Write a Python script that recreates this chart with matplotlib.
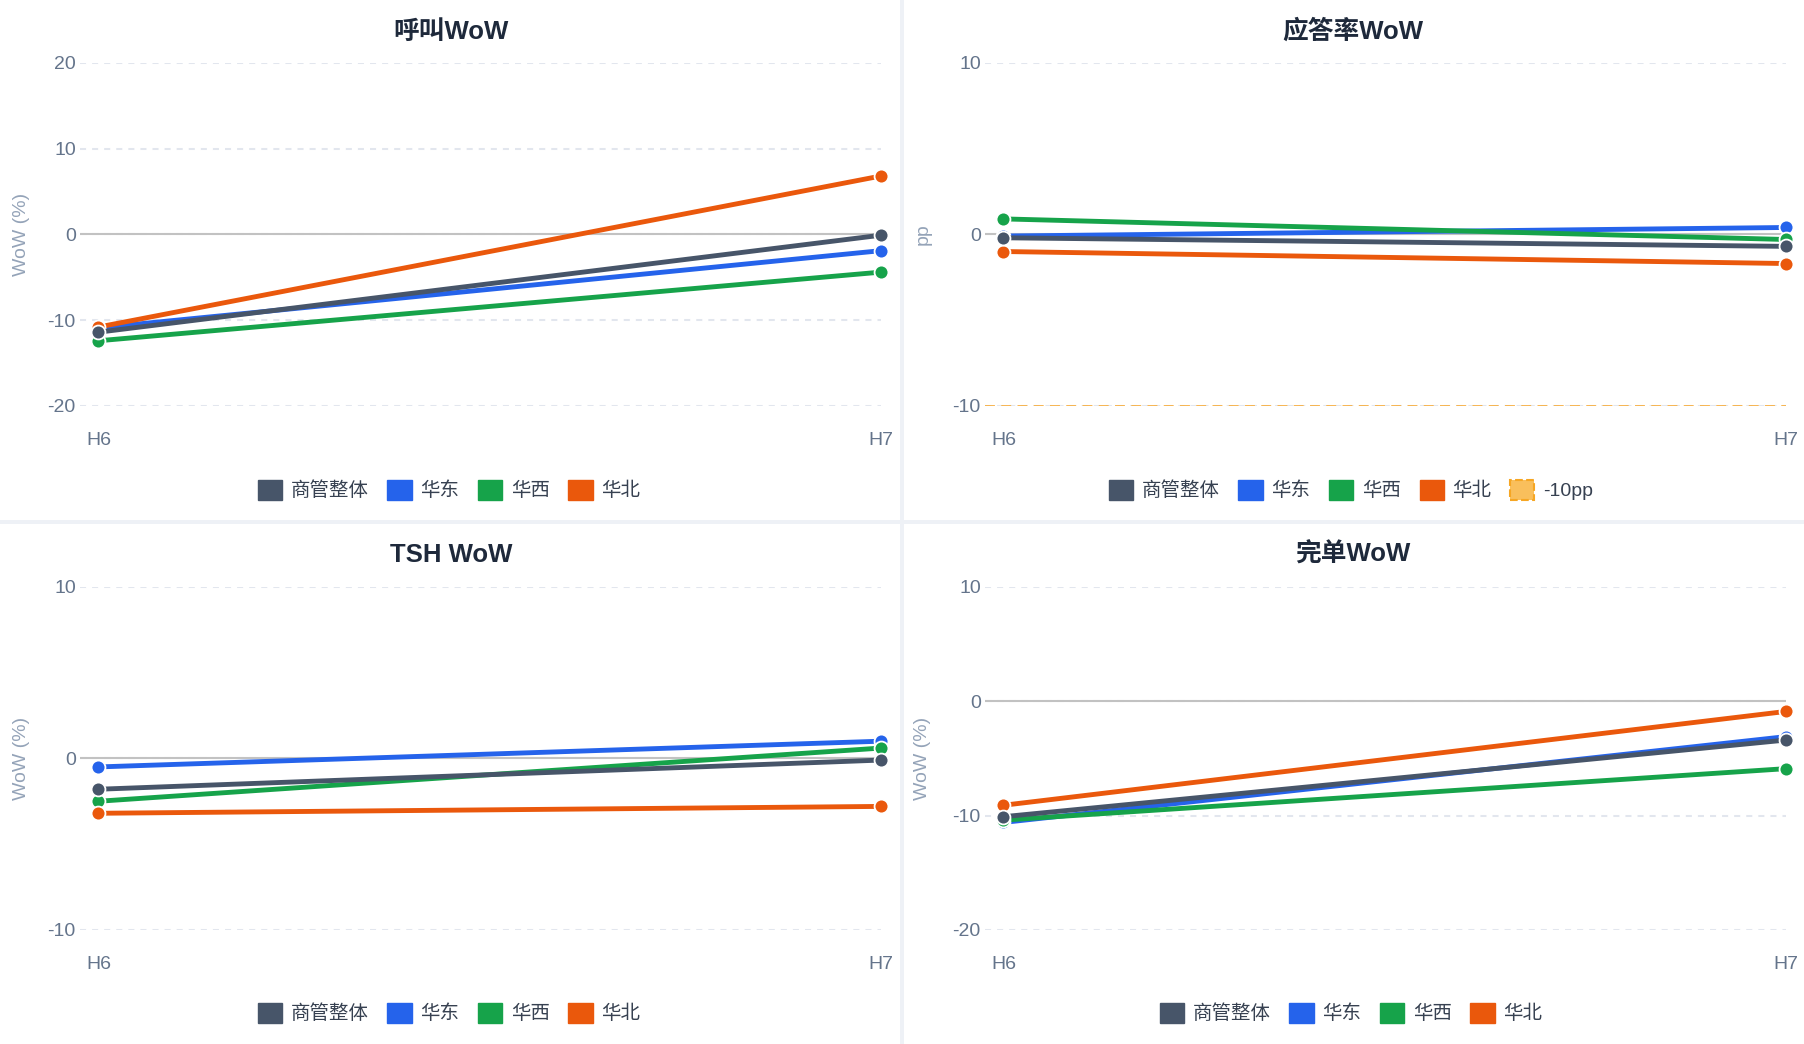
import matplotlib
matplotlib.use('Agg')
import matplotlib.pyplot as plt
from matplotlib.patches import Patch, Rectangle

plt.rcParams['font.family'] = ['Liberation Sans', 'Noto Sans CJK SC', 'DejaVu Sans']

# --- data ---
periods = ['H6', 'H7']
regions = ['商管整体', '华东', '华西', '华北']
colors = ['#475569', '#2563eb', '#16a34a', '#ea580c']

call_wow = [[-11.4, -0.1], [-10.9, -1.9], [-12.4, -4.4], [-10.8, 6.8]]
answer_pp = [[-0.2, -0.7], [-0.1, 0.4], [0.9, -0.3], [-1.0, -1.7]]
tsh_wow = [[-1.8, -0.1], [-0.5, 1.0], [-2.5, 0.6], [-3.2, -2.8]]
order_wow = [[-10.1, -3.4], [-10.6, -3.1], [-10.4, -5.9], [-9.1, -0.9]]

answer_threshold = -10
threshold_label = '-10pp'

panels = [
    ('呼叫WoW', 'WoW (%)', call_wow, [20, 10, 0, -10, -20]),
    ('应答率WoW', 'pp', answer_pp, [10, 0, -10]),
    ('TSH WoW', 'WoW (%)', tsh_wow, [10, 0, -10]),
    ('完单WoW', 'WoW (%)', order_wow, [10, 0, -10, -20]),
]

W, H = 1804, 1044
TICK_C = '#64748b'
GRID_C = '#e2e6ee'
THR_C = '#f7b045'

fig = plt.figure(figsize=(W / 100, H / 100), dpi=100, facecolor='white')

# panel separators
fig.add_artist(Rectangle((900 / W, 0), 4 / W, 1, transform=fig.transFigure,
                         fc='#eef1f6', ec='none', zorder=0))
fig.add_artist(Rectangle((0, 1 - 524 / H), 1, 4 / H, transform=fig.transFigure,
                         fc='#eef1f6', ec='none', zorder=0))

# (left px, top px) per panel plot area
areas = [(80, 62.7), (985, 62.7), (80, 586.7), (985, 586.7)]
pw, ph = 801, 343.3

for i, (title, ylab, series, ticks) in enumerate(panels):
    lx, ty = areas[i]
    ox = 0 if i % 2 == 0 else 902
    oy = 0 if i < 2 else 523
    ax = fig.add_axes([lx / W, 1 - (ty + ph) / H, pw / W, ph / H])
    ax.set_facecolor('none')
    for s in ax.spines.values():
        s.set_visible(False)

    ax.set_xlim(-0.0235, 1.0)
    ax.set_ylim(min(ticks), max(ticks))
    ax.set_xticks(range(len(periods)))
    ax.set_xticklabels(periods)
    ax.set_yticks(ticks)
    ax.set_yticklabels([str(t) for t in ticks])
    ax.tick_params(axis='y', length=0, pad=3, labelsize=14, labelcolor=TICK_C)
    ax.tick_params(axis='x', length=0, pad=19, labelsize=14, labelcolor=TICK_C)

    for t in ticks:
        ax.axhline(t, color=GRID_C, lw=1.45, ls=(0, (3, 3)), zorder=1)
    ax.axhline(0, color='#c2c2c2', lw=1.5, zorder=2)

    handles = []
    if i == 1:
        ax.axhline(answer_threshold, color=THR_C, lw=1.3, ls=(0, (5.5, 3.5)), zorder=2)

    # 商管整体 drawn last so it sits on top
    for k in [1, 2, 3, 0]:
        ax.plot(range(len(periods)), series[k], color=colors[k], lw=3.5,
                marker='o', ms=10, mec='white', mew=1.3, clip_on=False,
                zorder=5 if k == 0 else 4)
    for k in range(len(regions)):
        handles.append(Patch(fc=colors[k], ec=colors[k], label=regions[k]))
    if i == 1:
        handles.append(Patch(fc='#f9bf5c', ec='#f6a623', ls='--', lw=1.5,
                             label=threshold_label))

    cx = (ox + 451) / W
    fig.text(cx, 1 - (oy + 32) / H, title, ha='center', va='center',
             fontsize=18.5, fontweight='bold', color='#1e293b')
    fig.text((ox + 21) / W, 1 - (ty + ph / 2) / H, ylab, rotation=90,
             ha='center', va='center', fontsize=14, color='#94a3b8')

    fig.legend(handles=handles, loc='center',
               bbox_to_anchor=(cx - 2 / W, 1 - (oy + 490) / H),
               ncol=len(handles), frameon=False, fontsize=14,
               handlelength=1.25, handleheight=1.25, handletextpad=0.45,
               columnspacing=0.95, borderpad=0, labelcolor='#374151')

fig.savefig('out.png', dpi=100, facecolor=fig.get_facecolor())
